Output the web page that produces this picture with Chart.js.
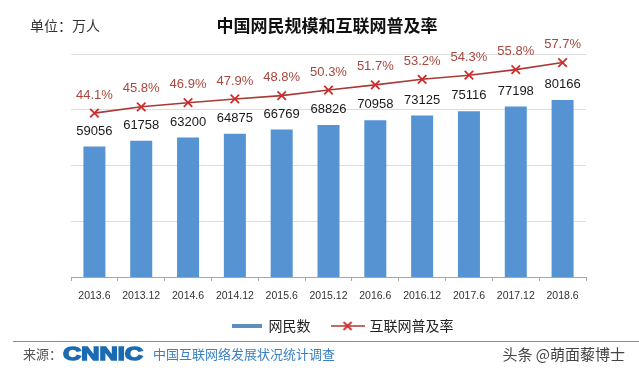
<!DOCTYPE html>
<html>
<head>
<meta charset="utf-8">
<script src="https://cdn.jsdelivr.net/npm/chart.js@4"></script>
<style>
  html, body { margin: 0; padding: 0; background: #ffffff; }
  #wrap { width: 639px; height: 375px; position: relative; }
</style>
</head>
<body>
<div id="wrap"><canvas id="c" width="639" height="375"></canvas></div>
<script>
// ---- data ----
const categories = ['2013.6', '2013.12', '2014.6', '2014.12', '2015.6', '2015.12', '2016.6', '2016.12', '2017.6', '2017.12', '2018.6'];
const netizens = [59056, 61758, 63200, 64875, 66769, 68826, 70958, 73125, 75116, 77198, 80166];
const penetration = [44.1, 45.8, 46.9, 47.9, 48.8, 50.3, 51.7, 53.2, 54.3, 55.8, 57.7];
const seriesNames = ['网民数', '互联网普及率'];
const chartTitle = '中国网民规模和互联网普及率';
const unitLabel = '单位：万人';
const sourcePrefix = '来源：';
const sourceLogo = 'CNNIC';
const sourceName = '中国互联网络发展状况统计调查';
const creditText = '头条 @萌面藜博士';

// ---- styles ----
const BAR_COLOR = '#5693d3';
const LINE_COLOR = '#a83a36';
const MARK_COLOR = '#d02c2c';
const PCT_COLOR = '#a8473d';
const CJK = '"Noto Sans CJK SC", "Noto Sans", sans-serif';
const LAT = '"Liberation Sans", Arial, sans-serif';

function barIcon() {
  const c = document.createElement('canvas');
  c.width = 30; c.height = 6;
  const x = c.getContext('2d');
  x.fillStyle = '#5b8fbf';
  x.fillRect(0, 1, 30, 4);
  return c;
}
function lineIcon() {
  const c = document.createElement('canvas');
  c.width = 34; c.height = 12;
  const x = c.getContext('2d');
  x.strokeStyle = LINE_COLOR; x.lineWidth = 1.6;
  x.beginPath(); x.moveTo(0, 6); x.lineTo(34, 6); x.stroke();
  x.strokeStyle = MARK_COLOR; x.lineWidth = 1.8;
  x.beginPath(); x.moveTo(13, 2); x.lineTo(21, 10); x.moveTo(21, 2); x.lineTo(13, 10); x.stroke();
  return c;
}
const icons = [barIcon(), lineIcon()];

const valueLabels = {
  id: 'valueLabels',
  afterDatasetsDraw(chart) {
    const ctx = chart.ctx;
    ctx.save();
    ctx.textAlign = 'center';
    ctx.textBaseline = 'middle';
    ctx.font = '13px ' + LAT;
    ctx.fillStyle = '#1a1a1a';
    chart.getDatasetMeta(0).data.forEach((el, i) => {
      ctx.fillText(String(netizens[i]), el.x, el.y - 15.5);
    });
    ctx.fillStyle = PCT_COLOR;
    chart.getDatasetMeta(1).data.forEach((el, i) => {
      ctx.fillText(penetration[i].toFixed(1) + '%', el.x, el.y - 18);
    });
    ctx.restore();
  }
};

const decor = {
  id: 'decor',
  afterLayout(chart) {
    if (chart.legend) {
      chart.legend.left += 14; chart.legend.right += 14;
      chart.legend.top -= 4; chart.legend.bottom -= 4;
    }
  },
  afterDraw(chart) {
    const ctx = chart.ctx;
    ctx.save();
    // unit
    ctx.textBaseline = 'middle';
    ctx.textAlign = 'left';
    ctx.fillStyle = '#333333';
    ctx.font = '14px ' + CJK;
    ctx.fillText(unitLabel, 30, 26);
    // title
    ctx.textAlign = 'center';
    ctx.fillStyle = '#111111';
    ctx.font = 'bold 17px ' + CJK;
    ctx.fillText(chartTitle, 327, 26);
    // separator
    ctx.strokeStyle = '#8c8c8c';
    ctx.lineWidth = 1;
    ctx.beginPath(); ctx.moveTo(13, 341.5); ctx.lineTo(639, 341.5); ctx.stroke();
    // source
    ctx.textAlign = 'left';
    ctx.fillStyle = '#555555';
    ctx.font = '13px ' + CJK;
    ctx.fillText(sourcePrefix, 23, 354);
    ctx.save();
    ctx.font = 'bold 18px ' + LAT;
    const w = ctx.measureText(sourceLogo).width;
    ctx.translate(63, 354);
    ctx.scale(80 / w, 1);
    ctx.fillStyle = '#1b6bb3';
    ctx.strokeStyle = '#1b6bb3';
    ctx.lineWidth = 1.4;
    ctx.fillText(sourceLogo, 0, 1);
    ctx.strokeText(sourceLogo, 0, 1);
    ctx.restore();
    ctx.fillStyle = '#3b80c2';
    ctx.font = '13px ' + CJK;
    ctx.fillText(sourceName, 153, 354);
    ctx.textAlign = 'right';
    ctx.fillStyle = '#444444';
    ctx.font = '15px ' + CJK;
    ctx.fillText(creditText, 625, 354);
    ctx.restore();
  }
};

new Chart(document.getElementById('c'), {
  data: {
    labels: categories,
    datasets: [
      {
        type: 'bar',
        label: seriesNames[0],
        data: netizens,
        yAxisID: 'y',
        backgroundColor: BAR_COLOR,
        categoryPercentage: 1,
        barPercentage: 0.47,
        order: 1
      },
      {
        type: 'line',
        label: seriesNames[1],
        data: penetration,
        yAxisID: 'y1',
        borderColor: LINE_COLOR,
        borderWidth: 1.6,
        pointStyle: 'crossRot',
        pointRadius: 6,
        pointBorderColor: MARK_COLOR,
        pointBorderWidth: 1.8,
        pointBackgroundColor: MARK_COLOR,
        tension: 0,
        order: 0
      }
    ]
  },
  options: {
    responsive: false,
    devicePixelRatio: 1,
    animation: false,
    layout: { padding: { top: 54, left: 71, right: 53, bottom: 28 } },
    plugins: {
      title: { display: false },
      tooltip: { enabled: false },
      legend: {
        display: true,
        position: 'bottom',
        labels: {
          usePointStyle: true,
          pointStyleWidth: 30,
          padding: 22,
          color: '#222222',
          font: { family: CJK, size: 14 },
          sort: (a, b) => a.datasetIndex - b.datasetIndex,
          generateLabels(chart) {
            const items = Chart.defaults.plugins.legend.labels.generateLabels(chart);
            items.forEach(it => { it.pointStyle = icons[it.datasetIndex]; it.lineWidth = 0; });
            return items;
          }
        }
      }
    },
    scales: {
      x: {
        afterFit(s) { s.height = 24; },
        grid: { display: true, drawOnChartArea: false, drawTicks: true, tickLength: 4, color: '#a6a6a6', offset: true },
        border: { display: true, color: '#a6a6a6' },
        ticks: { color: '#333333', font: { family: LAT, size: 10.5 }, padding: 9, maxRotation: 0, autoSkip: false }
      },
      y: {
        display: false,
        min: 0,
        max: 101000
      },
      y1: {
        position: 'left',
        min: 0,
        max: 60,
        afterFit(s) { s.width = 0; },
        ticks: { display: false, stepSize: 15 },
        border: { display: false },
        grid: { color: '#dcdcdc', drawTicks: false }
      }
    }
  },
  plugins: [valueLabels, decor]
});
</script>
</body>
</html>
